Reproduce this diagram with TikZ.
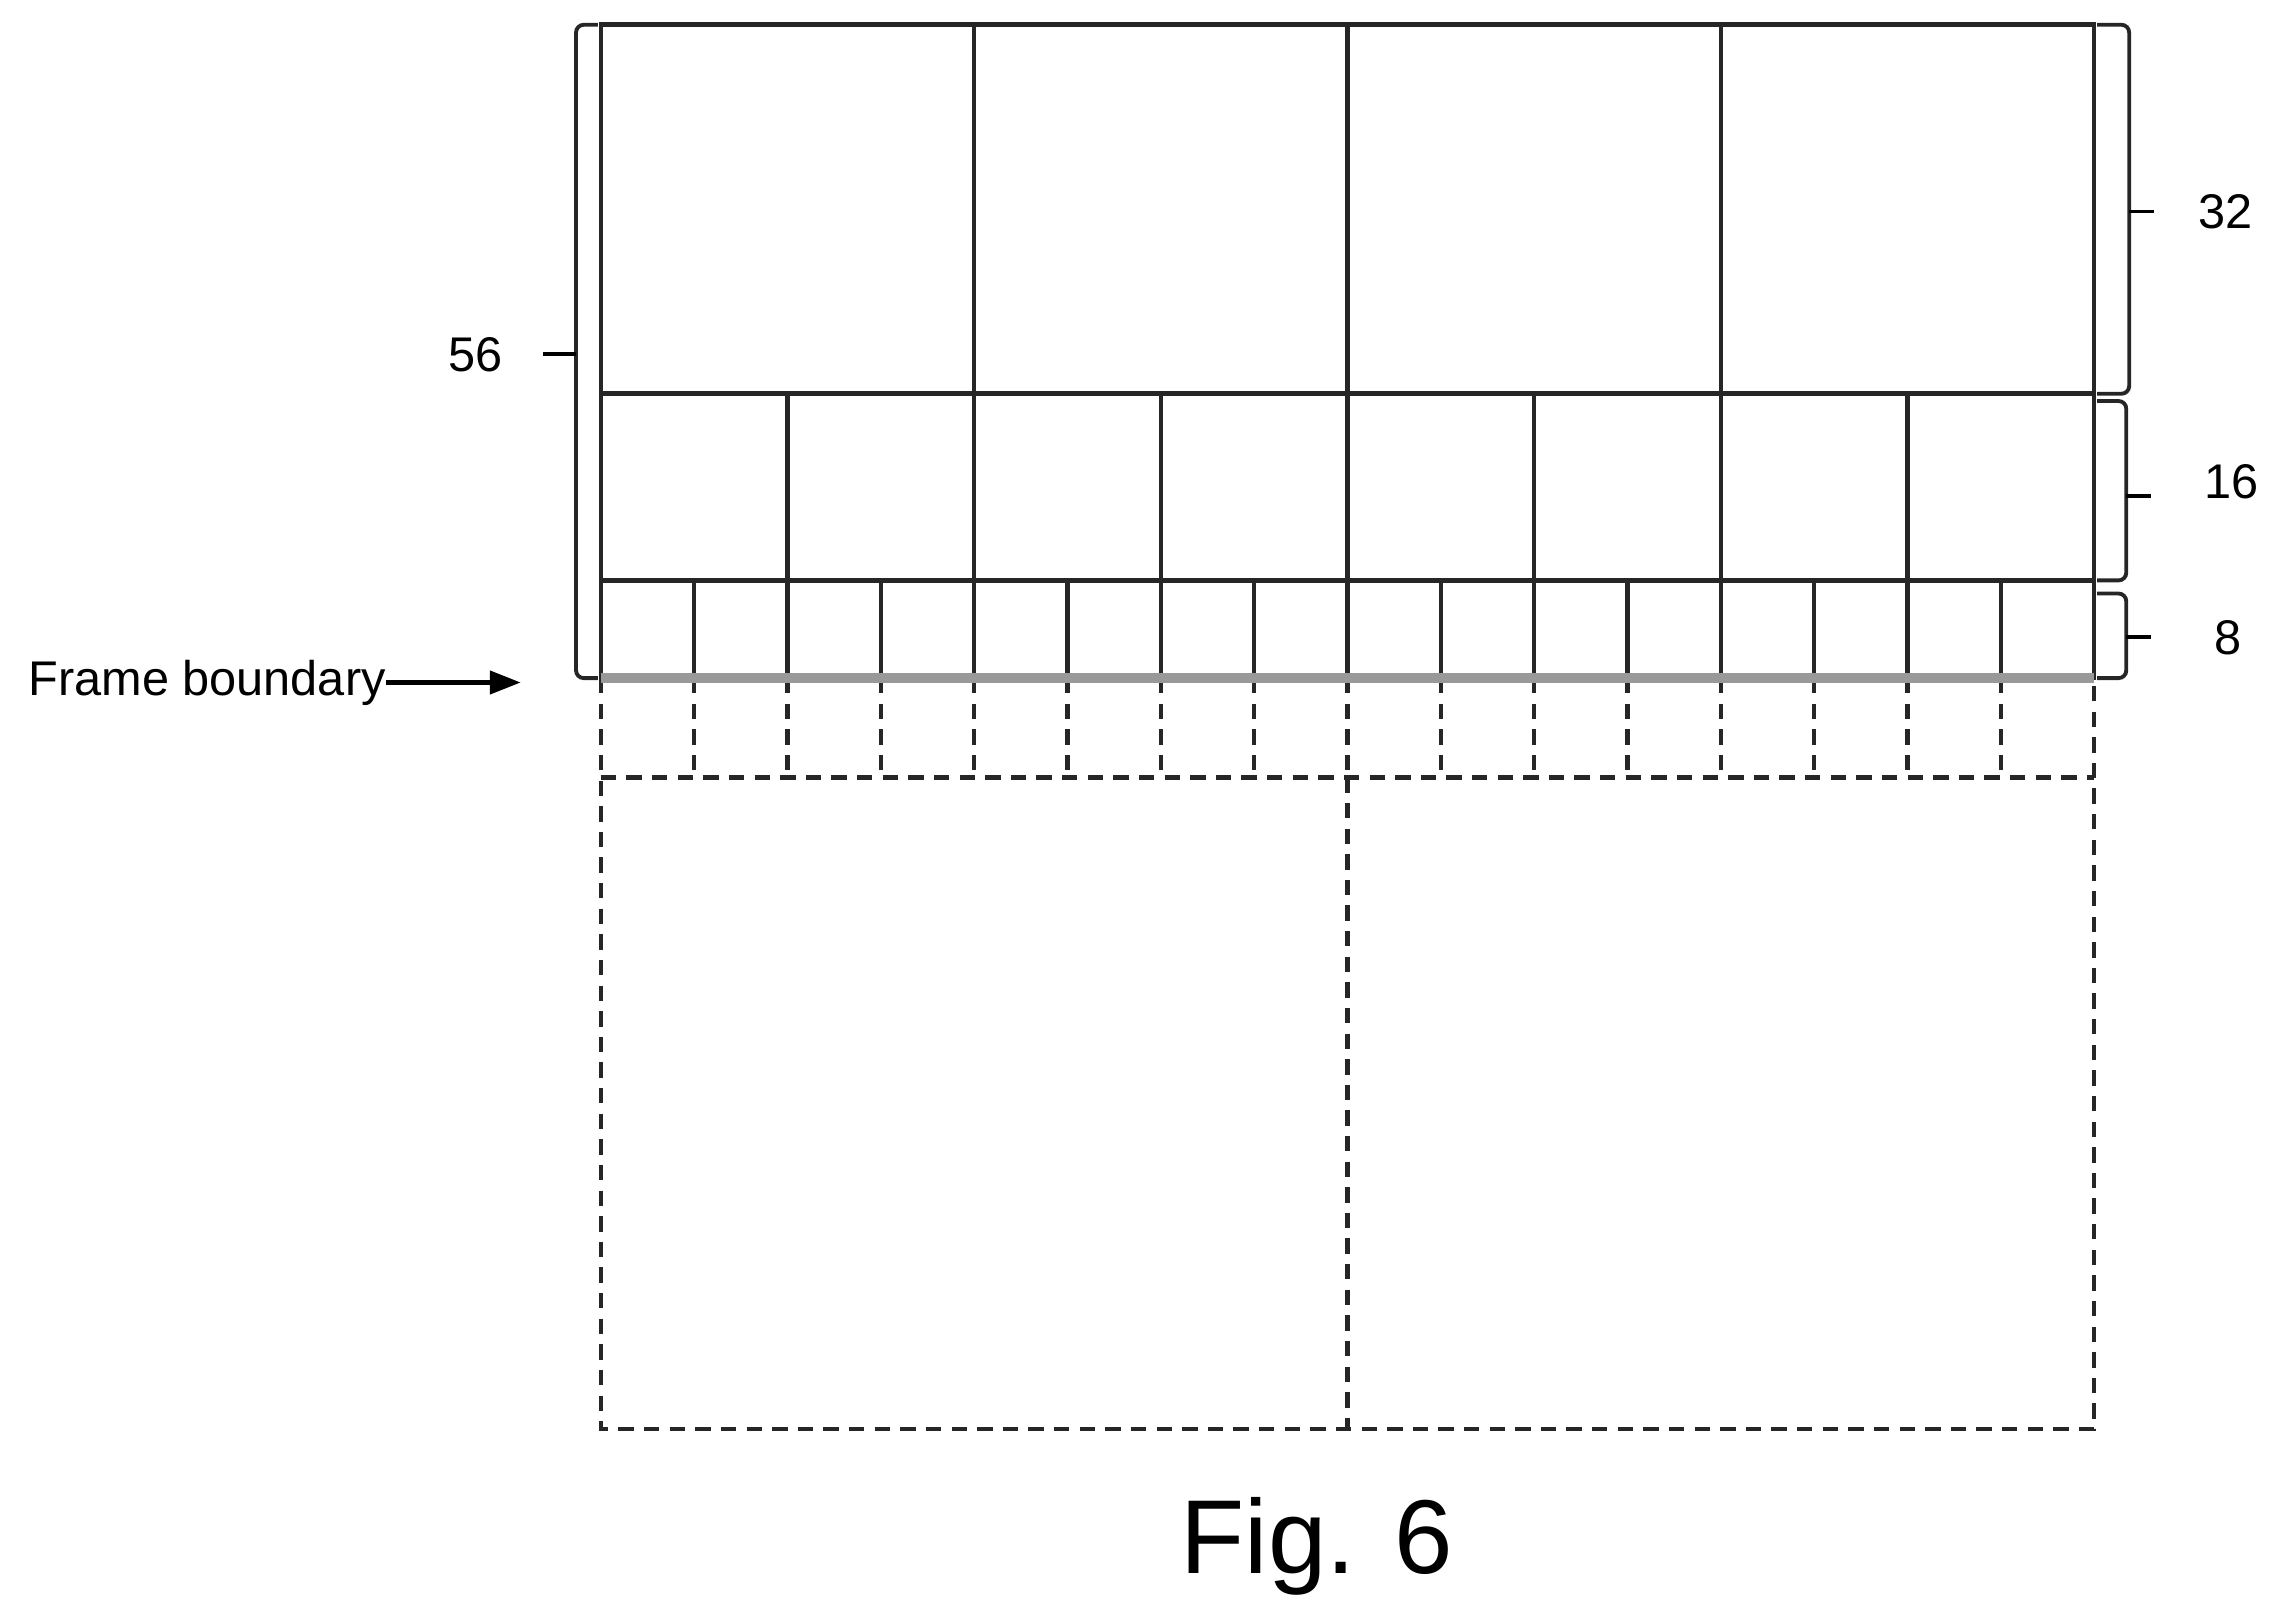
\documentclass[tikz,border=0pt]{standalone}
\usepackage{fontspec}
\setmainfont{Liberation Sans}
\usetikzlibrary{arrows.meta}
\tikzset{
  solidline/.style={line width=1.8pt, black!85},
  dashline/.style={line width=1.8pt, black!85, dash pattern=on 6pt off 4pt},
  bracketline/.style={line width=1.5pt, black!85, rounded corners=3pt},
  dimlabel/.style={font=\fontsize{19}{23}\selectfont, inner sep=0pt},
}
\begin{document}
\begin{tikzpicture}[x=0.02cm, y=-0.02cm]
\useasboundingbox (0,0) rectangle (1560,1108);
% solid blocks
\draw[solidline] (412,17) rectangle (1436,465);
\draw[solidline] (412,270) -- (1436,270);
\draw[solidline] (412,398) -- (1436,398);
\foreach \i in {1,2,3} \draw[solidline] (412+\i*256,17) -- (412+\i*256,270);
\foreach \i in {1,...,7} \draw[solidline] (412+\i*128,270) -- (412+\i*128,398);
\foreach \i in {1,...,15} \draw[solidline] (412+\i*64,398) -- (412+\i*64,465);
% dashed blocks
\draw[dashline] (412,465) -- (412,980) -- (1436,980) -- (1436,465);
\draw[dashline] (412,533) -- (1436,533);
\draw[dashline] (924,533) -- (924,980);
\foreach \i in {1,...,15} \draw[dashline] (412+\i*64,465) -- (412+\i*64,533);
% frame boundary
\draw[line width=4pt, gray!80] (412,465) -- (1436,465);
\node[font=\fontsize{19}{23}\selectfont, inner sep=0pt] (fb) at (142,468) {Frame boundary};
\coordinate (fbtip) at (357,468);
\draw[line width=1.6pt, -{Triangle[length=12pt,width=9pt]}] (fb.east) -- (fbtip);
% brackets
\draw[bracketline] (410,17) -- (395,17) -- (395,465) -- (410,465);
\draw[line width=1.5pt] (395,243) -- (372,243);
\node[dimlabel] (n56) at (326,243) {56};
\draw[bracketline] (1438,17) -- (1460,17) -- (1460,270) -- (1438,270);
\draw[line width=1.5pt] (1460,145) -- (1477,145);
\node[dimlabel] (n32) at (1526,145) {32};
\draw[bracketline] (1438,275) -- (1458,275) -- (1458,398) -- (1438,398);
\draw[line width=1.5pt] (1458,340) -- (1475,340);
\node[dimlabel] (n16) at (1530,330) {16};
\draw[bracketline] (1438,407) -- (1458,407) -- (1458,465) -- (1438,465);
\draw[line width=1.5pt] (1458,437) -- (1475,437);
\node[dimlabel] (n8) at (1528,437) {8};
\node[font=\fontsize{41}{49}\selectfont, inner sep=0pt] (fig) at (903,1060) {Fig. 6};
\end{tikzpicture}
\end{document}
